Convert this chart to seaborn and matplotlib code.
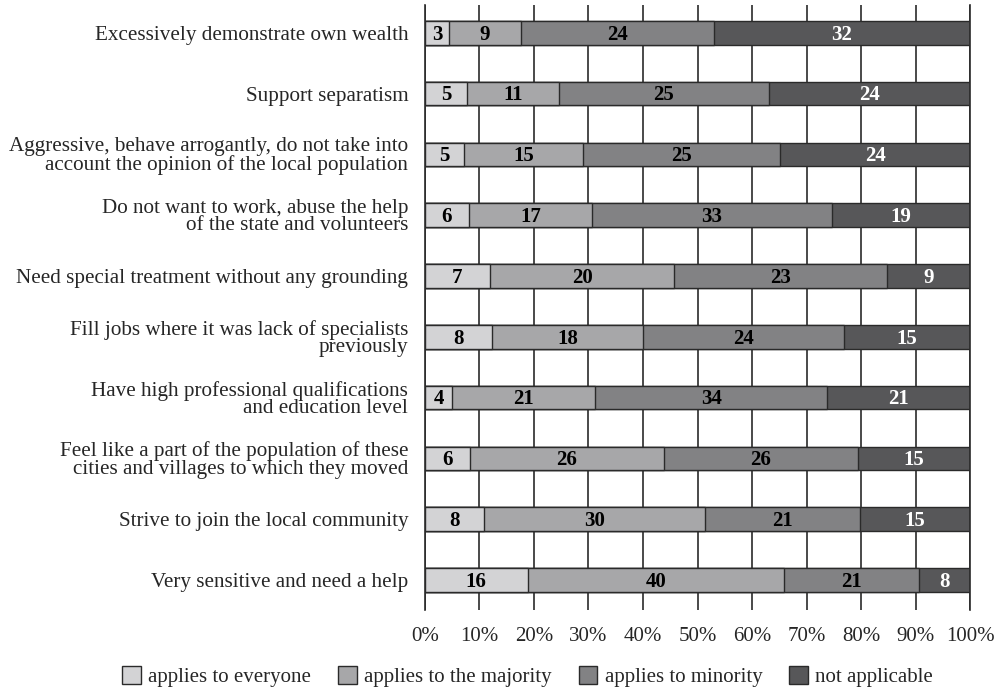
import matplotlib
matplotlib.use("Agg")
import matplotlib.pyplot as plt
import seaborn as sns
import pandas as pd
import numpy as np

statements = [
    "Excessively demonstrate own wealth",
    "Support separatism",
    "Aggressive, behave arrogantly, do not take into\naccount the opinion of the local population",
    "Do not want to work, abuse the help\nof the state and volunteers",
    "Need special treatment without any grounding",
    "Fill jobs where it was lack of specialists\npreviously",
    "Have high professional qualifications\nand education level",
    "Feel like a part of the population of these\ncities and villages to which they moved",
    "Strive to join the local community",
    "Very sensitive and need a help",
]
everyone = [3, 5, 5, 6, 7, 8, 4, 6, 8, 16]
majority = [9, 11, 15, 17, 20, 18, 21, 26, 30, 40]
minority = [24, 25, 25, 33, 23, 24, 34, 26, 21, 21]
not_applicable = [32, 24, 24, 19, 9, 15, 21, 15, 15, 8]

series_names = ["applies to everyone", "applies to the majority",
                "applies to minority", "not applicable"]
colors = ["#d3d3d5", "#a7a7a9", "#828284", "#575759"]

sns.set_style("white")
plt.rcParams["font.family"] = ["Liberation Serif", "DejaVu Serif"]

counts = pd.DataFrame({
    "statement": statements,
    series_names[0]: everyone,
    series_names[1]: majority,
    series_names[2]: minority,
    series_names[3]: not_applicable,
})
vals = counts[series_names]
pct = vals.div(vals.sum(axis=1), axis=0) * 100
cum = pct.cumsum(axis=1)

fig = plt.figure(figsize=(9.99, 6.92), dpi=100)
ax = fig.add_axes([0.4254, 0.118, 0.971 - 0.4254, 0.875])

# draw cumulative layers from the right so each segment sits on top
for i in range(3, -1, -1):
    df = pd.DataFrame({"statement": statements, "value": cum[series_names[i]]})
    sns.barplot(data=df, x="value", y="statement", color=colors[i],
                edgecolor="#2a2a2a", linewidth=1.0, width=0.39,
                orient="h", ax=ax, saturation=1, label=series_names[i])
if ax.legend_ is not None:
    ax.legend_.remove()

# numbers in segments
for r in range(len(statements)):
    left = 0
    for i, name in enumerate(series_names):
        w = pct.loc[r, name]
        ax.text(left + w / 2, r + 0.03, str(vals.loc[r, name]), ha="center",
                va="center", fontsize=15, fontweight="bold",
                color="white" if i == 3 else "black")
        left += w

ax.set_xlim(0, 100)
ax.set_ylim(len(statements) - 0.5, -0.46)
ax.set_xticks(np.arange(0, 101, 10))
ax.set_xticklabels([f"{t}%" for t in range(0, 101, 10)], fontsize=15)
ax.set_yticklabels(statements, fontsize=15.2, linespacing=0.88)
ax.set_xlabel("")
ax.set_ylabel("")
ax.tick_params(axis="x", length=0, pad=12)
ax.tick_params(axis="y", length=0, pad=12)
ax.grid(axis="x", color="#2a2a2a", linewidth=1.2)
ax.grid(axis="y", visible=False)
ax.set_axisbelow(True)
for s in ["top", "bottom"]:
    ax.spines[s].set_visible(False)
for s in ["left", "right"]:
    ax.spines[s].set_color("#2a2a2a")
    ax.spines[s].set_linewidth(1.2)

handles, labels = ax.get_legend_handles_labels()
order = [labels.index(n) for n in series_names]
fig.legend([handles[k] for k in order], [labels[k] for k in order],
           loc="center", bbox_to_anchor=(0.528, 0.022), ncol=4,
           frameon=False, fontsize=15, handlelength=0.9, handleheight=0.9,
           handletextpad=0.35, columnspacing=1.3)

fig.savefig("out.png", dpi=100)
